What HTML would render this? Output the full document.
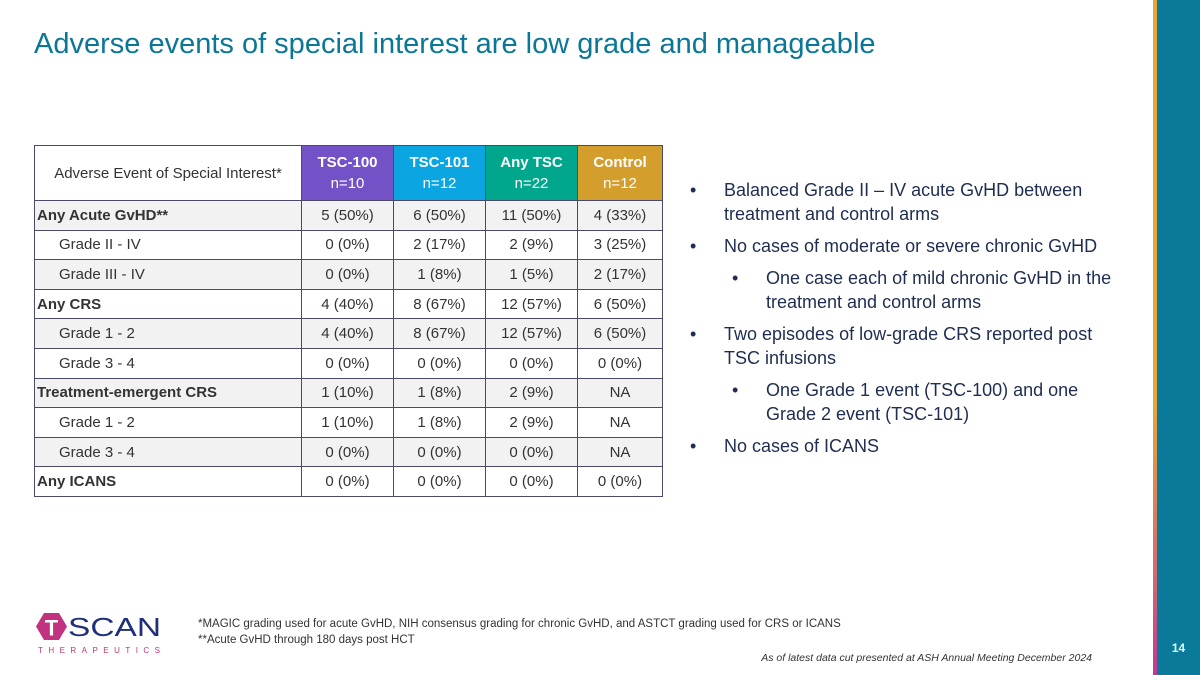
<!DOCTYPE html>
<html><head><meta charset="utf-8"><style>
*{margin:0;padding:0;box-sizing:border-box}
body{width:1200px;height:675px;position:relative;background:#fff;font-family:"Liberation Sans",sans-serif;overflow:hidden}
.title{position:absolute;left:34px;top:28px;font-size:29px;color:#0b7796}
table{position:absolute;left:34px;top:145px;border-collapse:collapse;font-size:15px;color:#333;table-layout:fixed}
td,th{border:1.5px solid #4a4a6a;text-align:center;font-weight:normal;padding:0}
tr{height:29.6px}
tr.h{height:55px}
th{color:#fff;line-height:21px;font-size:15px}
th b{font-weight:bold}
td.l{text-align:left;padding-left:2px}
td.i{padding-left:24px}
tr.g td{background:#f2f2f2}
.bul{position:absolute;left:690px;top:178px;font-size:18px;color:#1e2d50;line-height:24px;width:440px}
.bul div{position:relative;padding-left:34px;margin-bottom:8px}
.bul div:before{content:"•";position:absolute;left:0}
.bul div.s{padding-left:76px}
.bul div.s:before{left:42px}
.foot{position:absolute;left:198px;top:616px;font-size:11.5px;color:#333;line-height:16px}
.asof{position:absolute;right:108px;top:652px;font-size:10.5px;font-style:italic;color:#333}
</style></head><body>
<div class="title">Adverse events of special interest are low grade and manageable</div>
<table>
<tr class="h"><th style="width:267px;color:#333;background:#fff">Adverse Event of Special Interest*</th>
<th style="width:92px;background:#7252c6"><b>TSC-100</b><br>n=10</th>
<th style="width:92px;background:#0ba6e2"><b>TSC-101</b><br>n=12</th>
<th style="width:92px;background:#00a78c"><b>Any TSC</b><br>n=22</th>
<th style="width:85px;background:#d49e2c"><b>Control</b><br>n=12</th></tr>
<tr class="g"><td class="l"><b>Any Acute GvHD**</b></td><td>5 (50%)</td><td>6 (50%)</td><td>11 (50%)</td><td>4 (33%)</td></tr>
<tr><td class="l i">Grade II - IV</td><td>0 (0%)</td><td>2 (17%)</td><td>2 (9%)</td><td>3 (25%)</td></tr>
<tr class="g"><td class="l i">Grade III - IV</td><td>0 (0%)</td><td>1 (8%)</td><td>1 (5%)</td><td>2 (17%)</td></tr>
<tr><td class="l"><b>Any CRS</b></td><td>4 (40%)</td><td>8 (67%)</td><td>12 (57%)</td><td>6 (50%)</td></tr>
<tr class="g"><td class="l i">Grade 1 - 2</td><td>4 (40%)</td><td>8 (67%)</td><td>12 (57%)</td><td>6 (50%)</td></tr>
<tr><td class="l i">Grade 3 - 4</td><td>0 (0%)</td><td>0 (0%)</td><td>0 (0%)</td><td>0 (0%)</td></tr>
<tr class="g"><td class="l"><b>Treatment-emergent CRS</b></td><td>1 (10%)</td><td>1 (8%)</td><td>2 (9%)</td><td>NA</td></tr>
<tr><td class="l i">Grade 1 - 2</td><td>1 (10%)</td><td>1 (8%)</td><td>2 (9%)</td><td>NA</td></tr>
<tr class="g"><td class="l i">Grade 3 - 4</td><td>0 (0%)</td><td>0 (0%)</td><td>0 (0%)</td><td>NA</td></tr>
<tr><td class="l"><b>Any ICANS</b></td><td>0 (0%)</td><td>0 (0%)</td><td>0 (0%)</td><td>0 (0%)</td></tr>
</table>
<div class="bul">
<div>Balanced Grade II – IV acute GvHD between treatment and control arms</div>
<div>No cases of moderate or severe chronic GvHD</div>
<div class="s">One case each of mild chronic GvHD in the treatment and control arms</div>
<div>Two episodes of low-grade CRS reported post TSC infusions</div>
<div class="s">One Grade 1 event (TSC-100) and one Grade 2 event (TSC-101)</div>
<div>No cases of ICANS</div>
</div>
<div style="position:absolute;left:36px;top:612px;width:130px;height:44px">
<svg width="130" height="44" style="position:absolute;left:0;top:0"><polygon points="8,1 23,1 31,14.5 23,28 8,28 0,14.5" fill="#c2337f"/><text x="15.5" y="23.5" text-anchor="middle" font-family="Liberation Sans" font-weight="bold" font-size="22" fill="#fff">T</text><text x="32" y="24" font-family="Liberation Sans" font-size="26" fill="#1f2f7a" textLength="93" lengthAdjust="spacingAndGlyphs">SCAN</text><text x="2" y="41" font-family="Liberation Sans" font-size="8" fill="#c2337f" textLength="122" lengthAdjust="spacing">THERAPEUTICS</text></svg>
</div>
<div class="foot">*MAGIC grading used for acute GvHD, NIH consensus grading for chronic GvHD, and ASTCT grading used for CRS or ICANS<br>**Acute GvHD through 180 days post HCT</div>
<div class="asof">As of latest data cut presented at ASH Annual Meeting December 2024</div>
<div style="position:absolute;left:1153px;top:0;width:4px;height:675px;background:linear-gradient(#e0a83a 60%,#d06a70 85%,#c03898)"></div>
<div style="position:absolute;left:1157px;top:0;width:43px;height:675px;background:#0b7a9a"></div>
<div style="position:absolute;left:1157px;top:641px;width:43px;text-align:center;font-size:12px;color:#dff;font-weight:bold">14</div>
</body></html>
